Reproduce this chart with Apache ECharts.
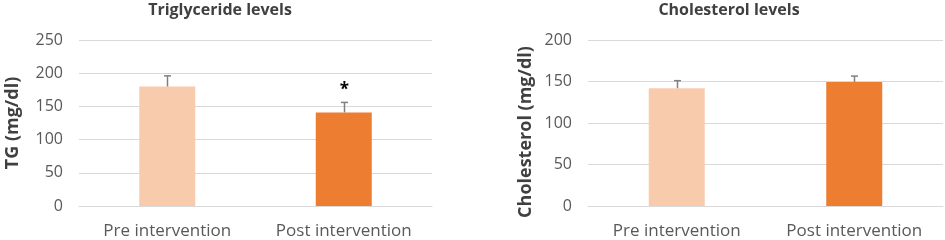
<!DOCTYPE html>
<html>
<head>
<meta charset="utf-8">
<script src="https://cdn.jsdelivr.net/npm/echarts@6/dist/echarts.min.js"></script>
<style>
  html, body { margin: 0; padding: 0; background: #fff; }
  #main { width: 945px; height: 240px; }
</style>
</head>
<body>
<div id="main"></div>
<script>
var categories = ['Pre intervention', 'Post intervention'];
var tgMean = [180, 141];
var tgErr = [16, 15];
var tgSig = ['', '*'];
var cholMean = [142, 149.5];
var cholErr = [9, 7];
var cholSig = ['', ''];
var tgTicks = [0, 250, 50];
var cholTicks = [0, 200, 50];

var barColors = ['#F8CBAD', '#ED7D31'];
var font = 'Open Sans';

var myChart = echarts.init(document.getElementById('main'));

// error bar (plus only) with optional significance mark
function errRender(params, api) {
    var idx = api.value(0);
    var top = api.coord([idx, api.value(1) + api.value(2)]);
    var base = api.coord([idx, api.value(1)]);
    var x = Math.round(top[0]) + 0.5;
    var sig = params.seriesIndex === 2 ? tgSig[idx] : cholSig[idx];
    var children = [
        { type: 'line', shape: { x1: x, y1: base[1], x2: x, y2: top[1] },
          style: { stroke: '#808080', lineWidth: 1.5 } },
        { type: 'line', shape: { x1: x - 3.5, y1: top[1], x2: x + 3.5, y2: top[1] },
          style: { stroke: '#808080', lineWidth: 1.5 } }
    ];
    if (sig) {
        children.push({ type: 'text', x: x, y: top[1] - 4,
            style: { text: sig, fill: '#000', font: 'bold 17px "' + font + '"',
                     align: 'center', verticalAlign: 'bottom' } });
    }
    return { type: 'group', children: children };
}

function yAxisOpt(idx, ticks, name, gap, pad) {
    return {
        gridIndex: idx, type: 'value',
        min: ticks[0], max: ticks[1], interval: ticks[2],
        name: name, nameLocation: 'middle', nameGap: gap,
        nameTextStyle: { fontFamily: font, fontWeight: 'bold', fontSize: 18, color: '#404040', padding: pad },
        axisLine: { show: false }, axisTick: { show: false },
        axisLabel: { fontFamily: font, fontSize: 16, color: '#595959', margin: 16 },
        splitLine: { lineStyle: { color: '#d9d9d9', width: 1 } }
    };
}

function xAxisOpt(idx) {
    return {
        gridIndex: idx, type: 'category', data: categories,
        axisLine: { show: true, lineStyle: { color: '#d9d9d9' } },
        axisTick: { show: false },
        axisLabel: { fontFamily: font, fontSize: 17, color: '#595959', margin: 17 }
    };
}

var option = {
    backgroundColor: '#fff',
    animation: false,
    title: [
        { text: 'Triglyceride levels', left: 220, top: 2, padding: 0, textAlign: 'center',
          textStyle: { fontFamily: font, fontWeight: 'bold', fontSize: 16, color: '#404040' } },
        { text: 'Cholesterol levels', left: 729, top: 2, padding: 0, textAlign: 'center',
          textStyle: { fontFamily: font, fontWeight: 'bold', fontSize: 16, color: '#404040' } }
    ],
    grid: [
        { left: 79, right: 513, top: 40, bottom: 34 },
        { left: 588, right: 2, top: 40, bottom: 34 }
    ],
    xAxis: [xAxisOpt(0), xAxisOpt(1)],
    yAxis: [
        yAxisOpt(0, tgTicks, 'TG (mg/dl)', 57, [0, 0, 0, 0]),
        yAxisOpt(1, cholTicks, 'Cholesterol (mg/dl)', 53, [0, 18, 0, 0])
    ],
    series: [
        { type: 'bar', xAxisIndex: 0, yAxisIndex: 0, barWidth: 56,
          data: tgMean.map(function (v, i) { return { value: v, itemStyle: { color: barColors[i] } }; }) },
        { type: 'bar', xAxisIndex: 1, yAxisIndex: 1, barWidth: 56,
          data: cholMean.map(function (v, i) { return { value: v, itemStyle: { color: barColors[i] } }; }) },
        { type: 'custom', xAxisIndex: 0, yAxisIndex: 0, renderItem: errRender, z: 5,
          data: tgMean.map(function (v, i) { return [i, v, tgErr[i]]; }) },
        { type: 'custom', xAxisIndex: 1, yAxisIndex: 1, renderItem: errRender, z: 5,
          data: cholMean.map(function (v, i) { return [i, v, cholErr[i]]; }) }
    ]
};
myChart.setOption(option);
</script>
</body>
</html>
